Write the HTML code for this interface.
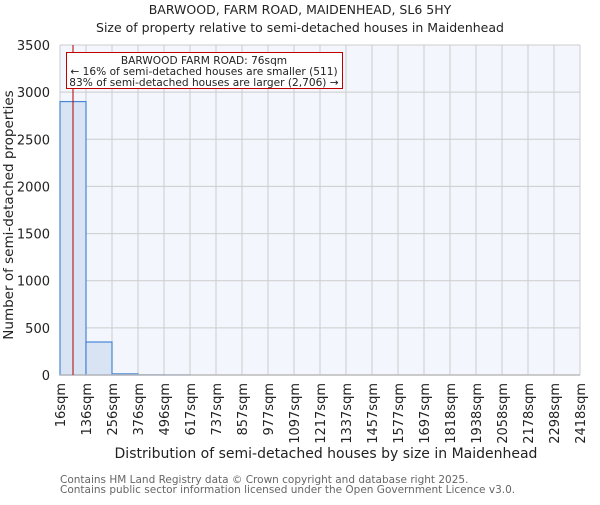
<!DOCTYPE html>
<html><head><meta charset="utf-8"><style>
body{margin:0;background:#fff}
svg text{font-family:"DejaVu Sans","Liberation Sans",sans-serif;fill:#222}
</style></head><body>
<svg id="c" width="600" height="500" xmlns="http://www.w3.org/2000/svg">
<text x="300" y="14" text-anchor="middle" font-size="12.5">BARWOOD, FARM ROAD, MAIDENHEAD, SL6 5HY</text>
<text x="300" y="32" text-anchor="middle" font-size="12.5">Size of property relative to semi-detached houses in Maidenhead</text>
<rect x="60" y="45" width="520" height="330" fill="#f3f6fd"/>
<g id="grid"></g><g id="bars"></g><g id="axes"></g>
<text x="326" y="458" text-anchor="middle" font-size="14">Distribution of semi-detached houses by size in Maidenhead</text>
<text transform="translate(13,215) rotate(-90)" text-anchor="middle" font-size="13.5">Number of semi-detached properties</text>
<text x="60" y="483" font-size="10.5" style="fill:#666">Contains HM Land Registry data © Crown copyright and database right 2025.</text>
<text x="60" y="493" font-size="10.5" style="fill:#666">Contains public sector information licensed under the Open Government Licence v3.0.</text>
</svg>
<script>
const binLabels=["16sqm","136sqm","256sqm","376sqm","496sqm","617sqm","737sqm","857sqm","977sqm","1097sqm","1217sqm","1337sqm","1457sqm","1577sqm","1697sqm","1818sqm","1938sqm","2058sqm","2178sqm","2298sqm","2418sqm"];
const binEdges=[16,136,256,376,496,617,737,857,977,1097,1217,1337,1457,1577,1697,1818,1938,2058,2178,2298,2418];
const counts=[2900,350,12,2,1,0,0,0,0,0,0,0,0,0,0,0,0,0,0,0];
const yTicks=[0,500,1000,1500,2000,2500,3000,3500];
const propertySize=76;
const ns="http://www.w3.org/2000/svg";
const X0=60,X1=580,Y0=375,Y1=45;
const nb=binEdges.length-1;
function xIdx(i){return X0+(X1-X0)*i/nb;}
function xVal(v){for(let i=0;i<nb;i++){if(v<=binEdges[i+1])return xIdx(i)+(v-binEdges[i])/(binEdges[i+1]-binEdges[i])*(X1-X0)/nb;}return X1;}
function y(v){return Y0-(Y0-Y1)*v/3500;}
function mk(t,a,p){const e=document.createElementNS(ns,t);for(const k in a)e.setAttribute(k,a[k]);p.appendChild(e);return e;}
const G=document.getElementById('grid'),B=document.getElementById('bars'),A=document.getElementById('axes');
binLabels.forEach((l,i)=>{const g=mk('line',{x1:xIdx(i),x2:xIdx(i),y1:Y1,y2:Y0,stroke:'#cccccc','stroke-width':1},G);


const x=xIdx(i);const t=mk('text',{transform:`translate(${x+5},${Y0+8}) rotate(-90)`,'text-anchor':'end','font-size':13},A);t.textContent=l;

});
yTicks.forEach(v=>{const g=mk('line',{x1:X0,x2:X1,y1:y(v),y2:y(v),stroke:'#cccccc','stroke-width':1},G);


const t=mk('text',{x:X0-10,y:y(v)+5,'text-anchor':'end','font-size':13},A);t.textContent=v;

});
counts.forEach((c,i)=>{if(c<=0)return;const r=mk('rect',{x:xIdx(i),y:y(c),width:xIdx(i+1)-xIdx(i),height:Y0-y(c),fill:'#d8e3f4',stroke:'#4a86d4','stroke-width':1.2},B);

});
const ax=mk('line',{x1:X0,x2:X1,y1:Y0,y2:Y0,stroke:'#bbb','stroke-width':1.5},A);


const px=xVal(propertySize);
const ml=mk('line',{x1:px,x2:px,y1:Y1,y2:Y0,stroke:'#b00000','stroke-width':1},A);


const ann=mk('g',{},A);


mk('rect',{x:66.5,y:52.5,width:276,height:36,fill:'#fff',stroke:'#c00000','stroke-width':1},ann);
[["BARWOOD FARM ROAD: 76sqm",64],["← 16% of semi-detached houses are smaller (511)",75],["83% of semi-detached houses are larger (2,706) →",86]].forEach(([s,yy])=>{const t=mk('text',{x:204,y:yy,'text-anchor':'middle','font-size':10.6},ann);t.textContent=s;});
</script>
</body></html>
